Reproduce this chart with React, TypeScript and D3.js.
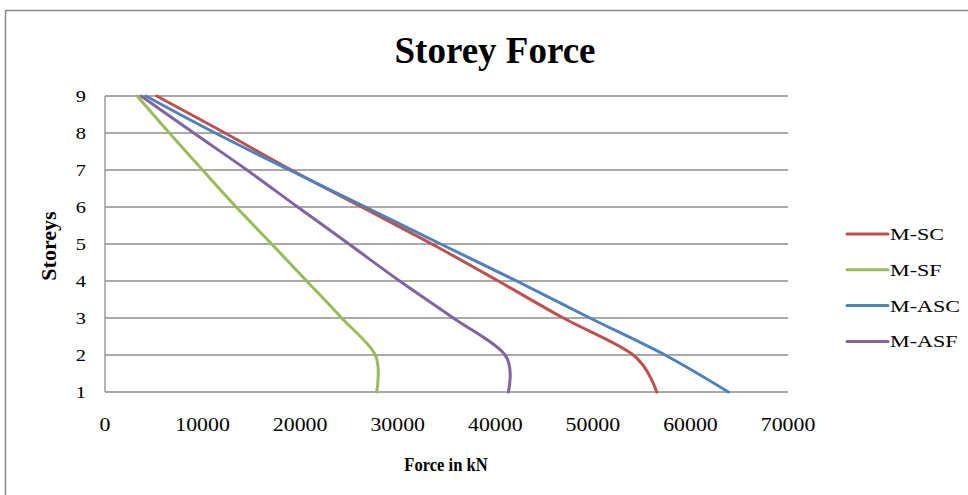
import React, { useEffect, useRef } from "react";
import * as d3 from "d3";

const storeys = [1, 2, 3, 4, 5, 6, 7, 8, 9];
const seriesNames = ["M-SC", "M-SF", "M-ASC", "M-ASF"];
const seriesColors = ["#C0504D", "#9BBB59", "#4F81BD", "#8064A2"];
// forces in kN, index matches storeys (1..9)
const mSC = [56540, 54150, 46970, 40310, 33500, 26300, 19100, 12300, 5300];
const mSF = [27840, 27700, 24260, 20670, 17080, 13450, 10000, 6600, 3300];
const mASC = [63890, 57390, 49700, 42190, 34400, 26700, 18900, 11300, 4200];
const mASF = [41340, 41000, 35700, 30200, 25000, 19750, 14550, 9100, 3700];
const xTicks = [0, 10000, 20000, 30000, 40000, 50000, 60000, 70000];
const yTicks = [1, 2, 3, 4, 5, 6, 7, 8, 9];

const W = 968;
const H = 495;
const FONT = "'Liberation Serif', 'Times New Roman', serif";

export default function App() {
  const ref = useRef<SVGSVGElement>(null);
  useEffect(() => {
    const svg = d3.select(ref.current);
    svg.selectAll("*").remove();
    const left = 105, right = 788, top = 96, bottom = 392;
    const x = d3.scaleLinear().domain([0, 70000]).range([left, right]);
    const y = d3.scaleLinear().domain([1, 9]).range([bottom, top]);

    const txt = (
      g: any, tx: number, ty: number, s: string, fs: number, sx: number,
      anchor: string, bold = false, rot = 0, dy = "0"
    ) => {
      g.append("text")
        .attr("transform", `translate(${tx},${ty}) rotate(${rot}) scale(${sx},1)`)
        .attr("text-anchor", anchor).attr("dy", dy)
        .attr("font-family", FONT).attr("font-size", fs)
        .attr("font-weight", bold ? "bold" : "normal")
        .attr("fill", "#000")
        .text(s);
    };

    svg.append("rect").attr("x", 0).attr("y", 0).attr("width", W).attr("height", H).attr("fill", "#fff");
    svg.append("rect").attr("x", 5.5).attr("y", 10.5).attr("width", W + 10).attr("height", H + 10)
      .attr("fill", "none").attr("stroke", "#878787").attr("stroke-width", 1.5);

    txt(svg, 495, 63, "Storey Force", 37, 1, "middle", true);

    // gridlines
    svg.append("g").selectAll("line").data(yTicks).join("line")
      .attr("x1", left).attr("x2", right)
      .attr("y1", (d) => y(d)).attr("y2", (d) => y(d))
      .attr("stroke", "#8e8e8e").attr("stroke-width", 1.3);
    svg.append("line").attr("x1", left).attr("x2", left).attr("y1", top).attr("y2", bottom)
      .attr("stroke", "#8e8e8e").attr("stroke-width", 1.3);

    // y tick labels
    const gy = svg.append("g");
    yTicks.forEach((d) => txt(gy, 86, y(d), String(d), 17, 1.2, "end", false, 0, "0.35em"));
    // x tick labels
    const gx = svg.append("g");
    xTicks.forEach((d) => txt(gx, x(d), 431, String(d), 19, 1.15, "middle"));

    txt(svg, 446, 471, "Force in kN", 18, 0.92, "middle", true);
    txt(svg, 56, 246, "Storeys", 21, 1.05, "middle", true, -90);

    const data = [mSC, mSF, mASC, mASF];
    const line = d3.line<number>()
      .x((d) => x(d))
      .y((_, i) => y(storeys[i]))
      .curve(d3.curveCardinal.tension(0));
    data.forEach((vals, k) => {
      svg.append("path").attr("d", line(vals) as string).attr("fill", "none")
        .attr("stroke", seriesColors[k]).attr("stroke-width", 3).attr("stroke-linecap", "round");
    });

    // legend
    const lg = svg.append("g");
    seriesNames.forEach((name, k) => {
      const ly = 234 + k * 35.8;
      lg.append("line").attr("x1", 847).attr("x2", 888).attr("y1", ly).attr("y2", ly)
        .attr("stroke", seriesColors[k]).attr("stroke-width", 3).attr("stroke-linecap", "round");
      txt(lg, 890, ly, name, 17, 1.3, "start", false, 0, "0.35em");
    });
  }, []);
  return (
    <svg ref={ref} width={W} height={H} style={{ position: "absolute", left: 0, top: 0 }} />
  );
}
